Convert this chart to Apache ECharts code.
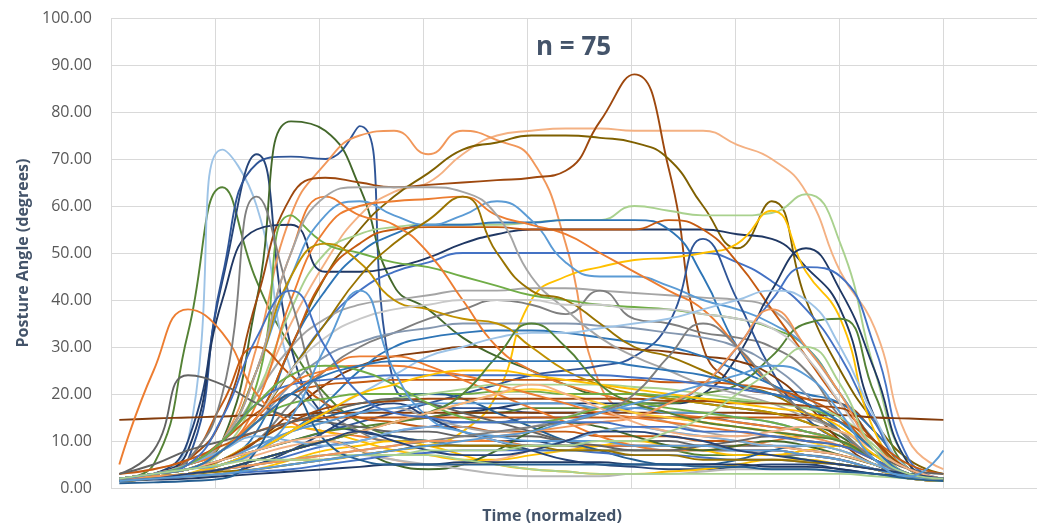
<!DOCTYPE html>
<html>
<head>
<meta charset="utf-8">
<script src="https://cdn.jsdelivr.net/npm/echarts@6/dist/echarts.min.js"></script>
<style>html,body{margin:0;padding:0;background:#fff}#c{width:1037px;height:529px}</style>
</head>
<body>
<div id="c"></div>
<script>
const timePoints = [0.08,0.41,0.74,1.07,1.40,1.73,2.06,2.39,2.72,3.05,3.38,3.71,4.04,4.37,4.70,5.03,5.36,5.69,6.02,6.35,6.68,7.01,7.34,7.67,8.00];
const yTicks = [0,10,20,30,40,50,60,70,80,90,100];

const p01 = [2,5,33,64,44,30,20,14,11,10,9,9,8,8,8,8,8,7,7,7,6,5,4,2,1.5];
const p02 = [2,3,10,72,60,25,15,12,11,10,10,10,9,9,9,9,8,8,8,8,7,6,4,2,1.5];
const p03 = [2,3,10,44,71,30,15,12,11,10,10,10,10,9,9,9,9,8,8,8,7,6,4,2,1.5];
const p04 = [2,3,6,45,69,70.5,70,77,22,18,17,17,16,16,16,15,15,15,14,13,12,10,6,3,2];
const p05 = [2,3,5,10,40,78,76,64,43,38,32,28,25,22,20,20,19,18,17,16,14,11,6,3,2];
const p06 = [3,4,6,10,20,35,48,58,63,65,71,75,76,76.5,76.5,76,76,76,73,70,63,46,34,10,4];
const p07 = [2,3,5,10,30,58,69,75,76,71,76,74,70,52,22,16,15,14,13,12,11,9,6,3,2];
const p08 = [2,3,6,15,40,62,66,65,64,64.5,65,65.5,66,67.5,78,88,68,30,22,20,19,18,12,4,2];
const p09 = [2,3,5,8,15,30,45,55,62,67,72,73.5,75,75,74.5,73.5,70,60,51,61,40,25,14,6,3];
const p10 = [2,3,4,8,20,38,50,54,55.5,56,56,56,56.5,57,57,60,59,58,58,58.5,62.5,52,25,5,2];
const p11 = [2,3,8,40,55,56,46,46,47,49,52,54,55,55,55,55,55,55,54,53,47,38,15,4,2];
const p12 = [2,3,4,6,12,30,42,50,54,56,56,56.5,56.5,57,57,57,55,45,30,22,20,18,12,4,2];
const p13 = [2,3,5,8,15,25,35,42,46,48,50,50,50,50,50,50,50,50,48,44,38,28,14,4,2];
const p14 = [1.5,2,3,4,5,6,6,7,8,9,12,20,40,45,47,48.5,49,50,52,59,46,36,12,4,2];
const p15 = [2,3,5,10,20,30,36,39,40,41,42,42,42.5,42.5,42,41.5,41,40.5,40,38,30,20,10,4,2];
const p16 = [2,3,4,6,10,18,25,30,33,36,38,40,39,37,42,36,35,33,32,30,25,15,8,3,2];
const p17 = [2,3,5,10,22,58,52,50,48,47,45,43,41,40,39,38.5,38,37,36,34,30,20,10,4,2];
const p18 = [2,3,5,10,25,45,58,61,58,56,58,61,57,48,45,45,43,40,38,35,30,20,10,3,2];
const p19 = [2,3,5,8,18,40,55,60,61,61.5,62,58,56,54,50,46,42,38,30,22,18,14,8,3,2];
const p20 = [2,3,4,8,15,30,45,52,55,55.5,55.5,55.5,55,55,55,55,57,55,48,38,28,18,10,3,2];
const p21 = [2,2,3,4,6,8,10,12,14,15,16,17,18,18,18,18,18,20,28,42,51,42,25,5,2];
const p22 = [1.5,2,3,4,5,7,9,10,12,13,14,14,15,15,16,17,18,22,30,40,47,45,30,6,2];
const p23 = [2,3,4,6,8,10,12,14,16,18,20,22,24,25,26,28,35,53,40,25,15,10,6,3,2];
const p24 = [2,3,4,6,8,10,12,13,14,15,16,16,17,17,17,18,18,20,22,28,35,36,20,4,2];
const p25 = [2,3,4,8,14,22,28,31,33,34,35,35,35,35,34.5,34,33,32,30,26,20,12,6,3,2];
const p26 = [2,3,4,6,10,16,22,26,28,29,30,30,30,30,30,29.5,29,28,27,24,18,10,5,3,2];
const p27 = [1.5,2,3,5,8,12,18,25,30,32,33,33.5,33.5,33,32,31,30,28,25,22,18,12,6,3,2];
const p28 = [2,3,5,10,16,20,22,22.5,23,23,23,23,23,23,23,23,22.5,22.5,22,21,19,15,8,3,2];
const p29 = [14.5,14.8,15,15.2,15.5,15.5,16,16,16,16,16,16,16,16,16,16,16,16,16,15.8,15.5,15.5,15,14.8,14.5];
const p30 = [5,25,38,33,20,14,12,11,10,10,10,10,9,9,9,9,9,9,8,8,7,6,4,2,1.5];
const p31 = [2,3,6,18,30,24,18,15,14,13,13,12,12,12,11,11,11,10,10,9,8,7,5,3,2];
const p32 = [3,8,24,22,18,15,14,13,12,12,11,11,11,10,10,10,10,9,9,9,8,7,5,3,2];
const p33 = [2,3,6,20,62,40,18,12,10,10,9,9,9,9,8,8,8,8,8,7,7,6,4,2,1.5];
const p34 = [2,3,5,10,25,45,52,48,40,38,36,35,30,25,22,20,19,18,17,16,14,10,6,3,2];
const p35 = [2,3,5,10,25,50,62,58,56,50,40,30,25,22,20,18,16,15,14,13,12,10,6,3,2];
const p36 = [2,3,5,10,25,50,62,64,64,64,63,58,45,38,32,28,25,22,20,18,15,12,6,3,2];
const p37 = [2,3,4,8,15,25,35,45,52,57,62,50,42,40,35,30,28,25,22,20,16,12,6,3,2];
const p38 = [2,3,4,8,15,25,32,36,38,39,40,40,40,39,39,38,38,37,36,34,28,18,8,3,2];
const p39 = [2,2,3,5,8,12,16,20,24,28,30,32,33,33,34,35,36,38,40,42,40,30,15,4,2];
const p40 = [2,3,5,10,18,22,23,23.5,24,24,24,24,24,24,24,23.5,23,22,21,20,18,14,8,3,2];
const p41 = [2,3,4,8,14,18,19,20,20,20,20,20.5,20.5,20,20,20,19.5,19,18.5,18,17,14,8,3,2];
const p42 = [1.5,2,3,6,10,13,12,10,8,7,6,6,7,8,9,10,9,8,7,7,8,9,6,3,2];
const p43 = [2,2.5,3,5,8,12,15,17,19,20,19,16,13,10,8,6,5,5,6,8,9,8,5,2.5,2];
const p44 = [2,3,5,8,14,20,25,28,28,26,23,20,17,14,11,9,8,8,9,10,11,10,7,3,2];
const p45 = [2,2.5,3,5,8,12,16,18,19,20,21,22,22,22,22,21.5,21,20,19,18,17,15,9,3,2];
const p46 = [2,3,4,6,9,12,14,16,17,15,13,12,13,15,17,16,14,12,11,12,13,12,7,3,2];
const p47 = [1.5,2,2.5,3,5,8,12,16,18,15,12,10,8,6,5,4.5,4,4,4.5,5,5,4,3,2.5,2];
const p48 = [3,4,6,9,12,14,15,15,15,15,15,15,15,15,15,15,15,15,15,15,15,14,10,5,3];
const p49 = [1.5,2,2.5,3,4,6,8,9,10,9,7,5,4,3.5,3,3,3.5,4,5,6,6,5,4,2,1.5];
const p50 = [2,3,4,6,9,12,14,16,17,18,18,18,18,18,17,17,16,16,15,14,12,10,6,3,2];
const p51 = [2,2.5,3,4,6,8,10,8,5,4,5,8,12,14,13,11,9,8,9,10,9,7,5,3,2];
const p52 = [2,2.5,3,5,7,9,10,8,6,5,5,6,8,10,12,13,12,11,10,9,8,7,5,3,2];
const p53 = [1.5,2,2.5,3,4,5,6,7,6,5,4,3,2.5,2.5,2.5,3,3,3.5,4,4,4,3.5,3,2.5,2];
const p54 = [1.5,1.8,2,2.5,3,3.5,4,4.5,5,5,5.5,5.5,5.5,5.5,5.5,5,5,5,5,4.5,4.5,4,3,2.5,2];
const p55 = [2,2,2.5,3,3.5,4,5,6,7,7.5,8,8,8,8,7.5,7,7,6.5,6,6,5.5,5,4,3,2];
const p56 = [2,2.5,3,4,5,6,7,7,7,7,6,5,4,3.5,3,3,3,3,3,3,3,3,2.5,2,1.5];
const p57 = [1.5,2,3,4,6,8,10,12,14,16,18,20,21,20,18,16,15,14,13,12,10,8,5,3,2];
const p58 = [2,3,4,6,10,14,17,18,18.5,19,19,19,19,19,19,19,18.5,18.5,18,18,17.5,17,10,4,2];
const p59 = [2,3,5,8,11,10,9,10,12,13,12,10,9,10,12,13,12,11,10,9,9,8,5,3,2];
const p60 = [2,2.5,3,3.5,4,5,6,7,8,9,9,9,9,8,8,7,7,6,6,6,5.5,5,4,3,2];
const p61 = [1,1.2,1.5,2,8,20,10,6,5,5,5,5,5,5,5,5,5,4.5,4.5,4,4,3.5,3,2,1.5];
const p62 = [2,3,4,8,15,22,25,26,26,25,24,22,20,18,16,15,14,13,12,11,10,9,6,3,2];
const p63 = [3,5,8,10,12,14,16,18,19,18,16,14,12,10,9,8,8,9,10,11,10,9,7,4,3];
const p64 = [2,3,5,10,18,24,26,25,22,18,15,14,14,15,17,18,17,16,15,14,12,10,6,3,2];
const p65 = [2,2.5,3,5,8,12,16,20,22,24,25,25,24,23,22,21,20,19,18,17,16,13,7,3,2];
const p66 = [2,3,4,5,8,15,30,42,25,15,12,11,10,10,10,9,9,9,8,8,7,6,4,2.5,2];
const p67 = [2,2.5,3,4,6,8,10,12,14,16,20,28,35,30,22,18,16,14,13,12,11,10,6,3,2];
const p68 = [2,2,3,4,5,6,7,8,9,10,11,12,13,14,16,20,28,35,30,22,16,12,6,3,2];
const p69 = [2,2.5,3,4,5,6,7,8,9,10,10,11,12,13,14,15,18,22,30,38,30,20,8,3,2];
const p70 = [2,3,4,6,8,10,11,12,14,16,18,20,22,20,17,14,12,11,11,12,13,12,8,4,2];
const p71 = [2,3,4,8,14,20,24,26,27,27,27,27,27,27,27,26,25,24,22,20,18,14,8,3,2];
const p72 = [2,3,5,15,32,42,30,20,16,15,14,14,14,14,14,13,13,12,12,11,10,9,6,3,2];
const p73 = [1.5,2,3,4,6,8,10,12,10,8,7,7,8,10,12,12,11,10,8,7,6,5,4,3,2];
const p74 = [2,3,4,5,6,6,6,7,7,8,8,8,9,9,10,10,12,15,20,25,30,22,8,3,2];
const p75 = [1.5,2,2.5,3,4,5,6,7,8,9,10,11,12,14,16,18,20,22,24,26,24,16,6,2.5,8];

const allSeriesValues = [p01,p02,p03,p04,p05,p06,p07,p08,p09,p10,p11,p12,p13,p14,p15,p16,p17,p18,p19,p20,
  p21,p22,p23,p24,p25,p26,p27,p28,p29,p30,p31,p32,p33,p34,p35,p36,p37,p38,p39,p40,
  p41,p42,p43,p44,p45,p46,p47,p48,p49,p50,p51,p52,p53,p54,p55,p56,p57,p58,p59,p60,
  p61,p62,p63,p64,p65,p66,p67,p68,p69,p70,p71,p72,p73,p74,p75];

const lineColors = ['#548235','#9DC3E6','#264478','#2F5597','#43682B','#F4B183','#F1975A','#9E480E','#7F6000','#A9D18E',
  '#203864','#2E75B6','#4472C4','#FFC000','#A5A5A5','#7F7F7F','#70AD47','#5B9BD5','#ED7D31','#C55A11',
  '#1F3864','#4472C4','#2F5597','#548235','#8497B0','#843C0C','#2E75B6','#C55A11','#843C0C','#ED7D31',
  '#C55A11','#636363','#7F7F7F','#BF9000','#ED7D31','#A5A5A5','#997300','#C9C9C9','#9DC3E6','#4472C4',
  '#70AD47','#FFC000','#255E91','#ED7D31','#A9D18E','#A5A5A5','#264478','#C55A11','#FFC000','#5B9BD5',
  '#43682B','#F4B183','#B7B7B7','#203864','#4472C4','#A9D18E','#FFCD33','#9E480E','#7CAFDD','#997300',
  '#255E91','#ED7D31','#636363','#70AD47','#FFC000','#5B9BD5','#548235','#7F7F7F','#F1975A','#F4B183',
  '#2E75B6','#4472C4','#264478','#A9D18E','#5B9BD5'];

const chart = echarts.init(document.getElementById('c'), null, {renderer: 'canvas'});
const series = allSeriesValues.map((vals, i) => ({
  name: 'S' + (i + 1),
  type: 'line',
  smooth: true,
  showSymbol: false,
  symbol: 'none',
  silent: true,
  lineStyle: {width: 1.9, color: lineColors[i]},
  itemStyle: {color: lineColors[i]},
  data: vals.map((v, j) => [timePoints[j], v])
}));

chart.setOption({
  animation: false,
  backgroundColor: '#ffffff',
  title: {
    text: 'n = 75',
    left: 531, top: 30,
    textStyle: {fontFamily: 'Open Sans', fontSize: 26, fontWeight: 'bold', color: '#44546A'}
  },
  grid: {left: 111, right: 0, top: 18, bottom: 41},
  xAxis: {
    type: 'value', min: 0, max: 8.9, interval: 1,
    axisLine: {show: false}, axisTick: {show: false}, axisLabel: {show: false},
    splitLine: {show: true, lineStyle: {color: '#D9D9D9', width: 1}},
    name: 'Time (normalzed)', nameLocation: 'middle', nameGap: 20,
    nameTextStyle: {fontFamily: 'Open Sans', fontSize: 16, fontWeight: 'bold', color: '#44546A', padding: [0, 44, 0, 0]}
  },
  yAxis: {
    type: 'value', min: yTicks[0], max: yTicks[yTicks.length - 1], interval: 10,
    axisLine: {show: false}, axisTick: {show: false},
    axisLabel: {fontFamily: 'Open Sans', fontSize: 16, color: '#595959', margin: 19, formatter: v => v.toFixed(2)},
    splitLine: {show: true, lineStyle: {color: '#D9D9D9', width: 1}},
    name: 'Posture Angle (degrees)', nameLocation: 'middle', nameGap: 78,
    nameTextStyle: {fontFamily: 'Open Sans', fontSize: 16, fontWeight: 'bold', color: '#44546A'}
  },
  series: series
});
</script>
</body>
</html>
